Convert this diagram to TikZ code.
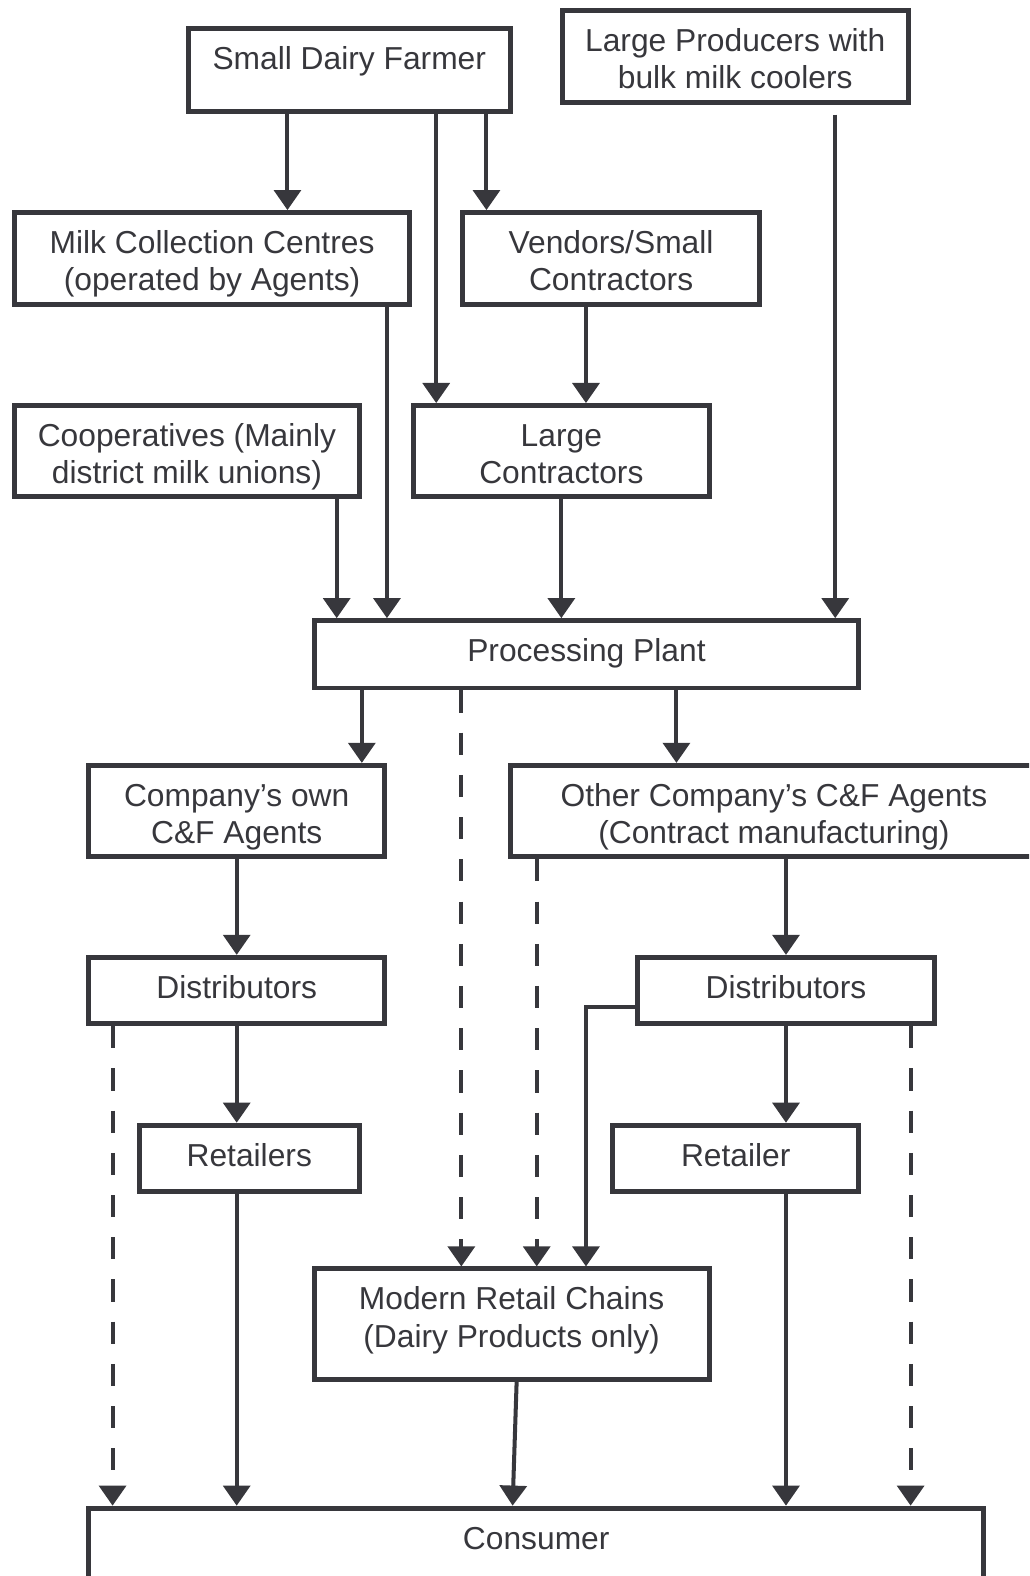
\documentclass[tikz,border=0pt]{standalone}
\usepackage{fontspec}
\setmainfont{Liberation Sans}
\usetikzlibrary{arrows.meta}
\usetikzlibrary{calc}
\definecolor{ink}{RGB}{55,55,60}

\begin{document}
\begin{tikzpicture}[x=0.75pt,y=-0.75pt,
    box/.style={draw=ink, line width=3.7pt, text=ink, align=center, inner sep=0pt,
        text height=30.6pt, font=\fontsize{23.7}{27.8}\selectfont},
    twobox/.style={box, text height=58.4pt},
    arr/.style={draw=ink, line width=3pt, -{Triangle[length=15pt,width=20pt]}},
    darr/.style={arr, dash pattern=on 16.5pt off 15pt}]
    \clip (0,0) rectangle (1024,1568);

    % supply side
    \node[box, minimum width=240pt, minimum height=61.5pt, text depth=30.9pt] (farmer) at (347.5,69.5) {Small Dairy Farmer};
    \node[twobox, minimum width=258pt, minimum height=68.25pt, text depth=9.85pt] (producers) at (731.5,56) {Large Producers with\\bulk milk coolers};
    \node[twobox, minimum width=294.75pt, minimum height=68.25pt, text depth=9.85pt] (mcc) at (211,257) {Milk Collection Centres\\(operated by Agents)};
    \node[twobox, minimum width=221.25pt, minimum height=68.25pt, text depth=9.85pt] (vendors) at (608,257) {Vendors/Small\\Contractors};
    \node[twobox, minimum width=257.25pt, minimum height=67.5pt, text depth=9.1pt] (coop) at (186,448.5) {Cooperatives (Mainly\\district milk unions)};
    \node[twobox, minimum width=220.5pt, minimum height=67.5pt, text depth=9.1pt] (lcontr) at (558.5,448.5) {Large\\Contractors};
    \node[box, minimum width=406.5pt, minimum height=50.25pt, text depth=19.65pt] (plant) at (583.5,651) {Processing Plant};

    % distribution side
    \node[twobox, minimum width=220.5pt, minimum height=68.25pt, text depth=9.85pt] (owncf) at (235.5,807) {Company’s own\\C\&F Agents};
    \node[twobox, minimum width=393pt, minimum height=68.25pt, text depth=9.85pt] (othercf) at (770,807) {Other Company’s C\&F Agents\\(Contract manufacturing)};
    \node[box, minimum width=220.5pt, minimum height=49.5pt, text depth=18.9pt] (distl) at (235.5,985.5) {Distributors};
    \node[box, minimum width=221.25pt, minimum height=49.5pt, text depth=18.9pt] (distr) at (782,985.5) {Distributors};
    \node[box, minimum width=164.25pt, minimum height=49.5pt, text depth=18.9pt] (retl) at (248,1152.5) {Retailers};
    \node[box, minimum width=183.75pt, minimum height=49.5pt, text depth=18.9pt] (retr) at (732,1152.5) {Retailer};
    \node[twobox, minimum width=294.75pt, minimum height=82.5pt, text depth=24.1pt] (chains) at (509,1317.5) {Modern Retail Chains\\(Dairy Products only)};
    \node[box, minimum width=667.5pt, minimum height=53.25pt, text depth=22.65pt] (consumer) at (533.5,1536) {Consumer};

    % milk procurement
    \draw[arr] (farmer.south -| 286,0) -- (mcc.north -| 286,0);
    \draw[arr] (farmer.south -| 434,0) -- (lcontr.north -| 434,0);
    \draw[arr] (farmer.south -| 484,0) -- (vendors.north -| 484,0);
    \draw[arr] ($(producers.south -| 831,0)+(0,10)$) -- (plant.north -| 831,0);
    \draw[arr] (mcc.south -| 385,0) -- (plant.north -| 385,0);
    \draw[arr] (vendors.south -| 583,0) -- (lcontr.north -| 583,0);
    \draw[arr] (coop.south -| 335,0) -- (plant.north -| 335,0);
    \draw[arr] (lcontr.south) -- (plant.north -| lcontr.south);

    % plant to market
    \draw[arr] (plant.south -| 360,0) -- (owncf.north -| 360,0);
    \draw[darr] (plant.south -| 459,0) -- (chains.north -| 459,0);
    \draw[arr] ($(plant.south -| 673,0)+(0,-4)$) -- (othercf.north -| 673,0);
    \draw[darr] (othercf.south -| 534,0) -- (chains.north -| 534,0);
    \draw[arr] (othercf.south -| distr.north) -- (distr.north);
    \draw[arr] (owncf.south) -- (distl.north);

    % left channel
    \draw[arr] (distl.south) -- (retl.north -| distl.south);
    \draw[darr] (distl.south -| 112,0) -- (consumer.north -| 112,0);
    \draw[arr] (retl.south -| distl.south) -- (consumer.north -| distl.south);

    % right channel
    \draw[arr] (distr.west |- 0,1002) -| (chains.north -| 583,0);
    \draw[arr] (distr.south) -- (retr.north -| distr.south);
    \draw[darr] (distr.south -| 906,0) -- (consumer.north -| 906,0);
    \draw[arr] (retr.south -| distr.south) -- (consumer.north -| distr.south);
    \draw[arr] (chains.south -| 514,0) -- (consumer.north -| 510,0);
\end{tikzpicture}
\end{document}
